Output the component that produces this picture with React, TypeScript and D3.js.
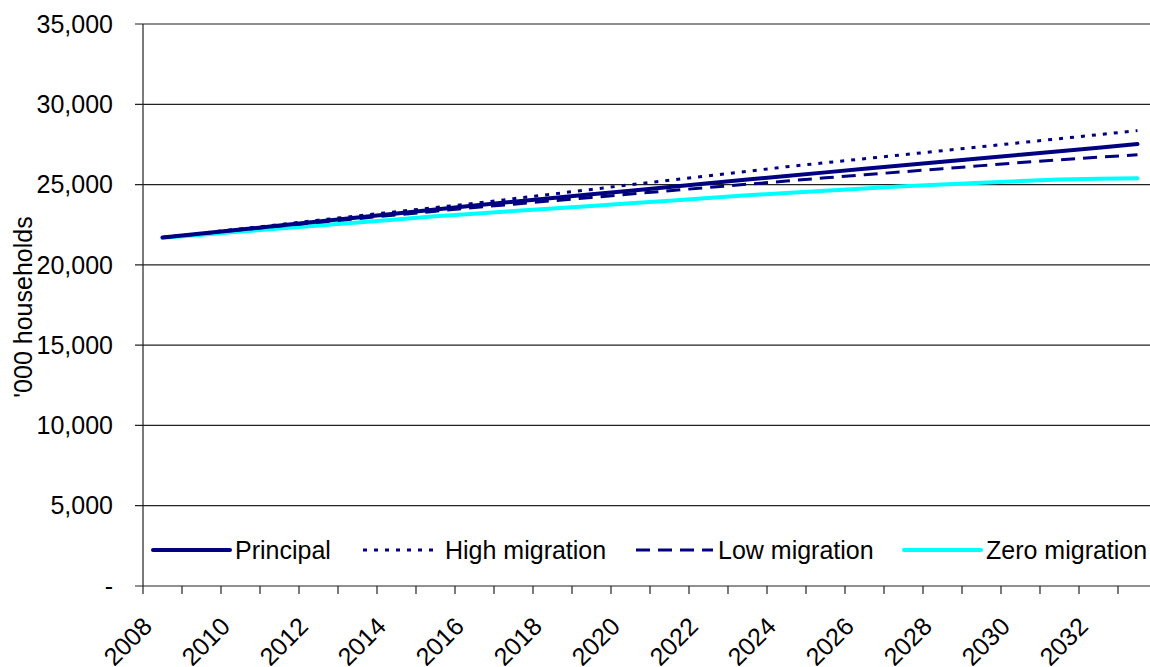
import { useEffect, useRef } from 'react';
import * as d3 from 'd3';

const years = d3.range(2008, 2034).map(String);
const tickYears = years.filter((_, i) => i % 2 === 0);
const yTicks = [0, 5000, 10000, 15000, 20000, 25000, 30000, 35000];

const principal = [
  21700, 21950, 22200, 22450, 22700, 22950, 23200, 23450, 23700, 23930, 24160, 24390, 24620,
  24850, 25080, 25310, 25540, 25760, 25980, 26200, 26420, 26640, 26860, 27080, 27300, 27520,
];
const highMigration = [
  21700, 21970, 22240, 22510, 22780, 23050, 23310, 23570, 23830, 24120, 24410, 24700, 24990,
  25270, 25550, 25830, 26110, 26360, 26610, 26860, 27110, 27360, 27610, 27860, 28110, 28360,
];
const lowMigration = [
  21700, 21940, 22180, 22420, 22650, 22880, 23110, 23340, 23570, 23780, 23990, 24200, 24410,
  24620, 24820, 25020, 25220, 25420, 25610, 25800, 25990, 26180, 26370, 26540, 26700, 26860,
];
const zeroMigration = [
  21690, 21880, 22070, 22260, 22450, 22640, 22830, 23020, 23190, 23350, 23510, 23670, 23830,
  23990, 24160, 24330, 24480, 24620, 24760, 24890, 25010, 25120, 25220, 25310, 25370, 25390,
];

const seriesNames = ['Principal', 'High migration', 'Low migration', 'Zero migration'];

const FONT = '"Liberation Sans", Arial, sans-serif';
const FS = 25;

export default function App() {
  const svgRef = useRef<SVGSVGElement>(null);

  useEffect(() => {
    if (!svgRef.current) return;
    const svg = d3.select(svgRef.current);
    svg.selectAll('*').remove();

    const left = 143;
    const top = 24;
    const bottom = 586;
    const band = 39;

    const x = d3
      .scaleBand()
      .domain(years)
      .range([left, left + band * years.length])
      .paddingInner(0)
      .paddingOuter(0);
    const y = d3.scaleLinear().domain([0, 35000]).range([bottom, top]);
    const plotRight = left + band * years.length;

    // gridlines
    svg
      .append('g')
      .selectAll('line')
      .data(yTicks)
      .enter()
      .append('line')
      .attr('x1', left - 8)
      .attr('x2', plotRight)
      .attr('y1', (d) => y(d))
      .attr('y2', (d) => y(d))
      .attr('stroke', '#222')
      .attr('stroke-width', 1.2);

    // y axis line
    svg
      .append('line')
      .attr('x1', left)
      .attr('x2', left)
      .attr('y1', top)
      .attr('y2', bottom)
      .attr('stroke', '#222')
      .attr('stroke-width', 1.2);

    // y labels
    svg
      .append('g')
      .selectAll('text')
      .data(yTicks)
      .enter()
      .append('text')
      .attr('x', 113)
      .attr('y', (d) => y(d))
      .attr('dy', '0.35em')
      .attr('text-anchor', 'end')
      .attr('font-family', FONT)
      .attr('font-size', FS)
      .attr('fill', '#000')
      .text((d) => (d === 0 ? '-' : d3.format(',')(d)));

    // x ticks at band edges
    const edges = d3.range(years.length + 1).map((i) => left + i * band);
    svg
      .append('g')
      .selectAll('line')
      .data(edges)
      .enter()
      .append('line')
      .attr('x1', (d) => d)
      .attr('x2', (d) => d)
      .attr('y1', bottom)
      .attr('y2', bottom + 8)
      .attr('stroke', '#222')
      .attr('stroke-width', 1.2);

    // x labels
    svg
      .append('g')
      .selectAll('text')
      .data(tickYears)
      .enter()
      .append('text')
      .attr('transform', (d) => {
        const cx = (x(d) as number) + x.bandwidth() / 2;
        return `translate(${cx - 9},${628}) rotate(-45)`;
      })
      .attr('text-anchor', 'end')
      .attr('font-family', FONT)
      .attr('font-size', FS)
      .attr('fill', '#000')
      .text((d) => d);

    // y title
    svg
      .append('text')
      .attr('transform', `translate(32,307) rotate(-90)`)
      .attr('text-anchor', 'middle')
      .attr('font-family', FONT)
      .attr('font-size', FS)
      .attr('fill', '#000')
      .text("'000 households");

    const styles = [
      { color: '#000080', width: 4, dash: null as string | null },
      { color: '#000080', width: 3, dash: '4,7' },
      { color: '#000080', width: 3, dash: '14,8' },
      { color: '#00FFFF', width: 4, dash: null as string | null },
    ];
    const allSeries = [principal, highMigration, lowMigration, zeroMigration];

    const line = d3
      .line<number>()
      .x((_, i) => (x(years[i]) as number) + x.bandwidth() / 2)
      .y((d) => y(d));

    // draw in order: zero, low, high, principal
    [3, 2, 1, 0].forEach((k) => {
      const s = styles[k];
      svg
        .append('path')
        .datum(allSeries[k])
        .attr('d', line)
        .attr('fill', 'none')
        .attr('stroke', s.color)
        .attr('stroke-width', s.width)
        .attr('stroke-linejoin', 'round')
        .attr('stroke-linecap', s.dash ? 'butt' : 'round')
        .attr('stroke-dasharray', s.dash);
    });

    // legend
    const legendX = [153, 363, 636, 904];
    const legendY = 550;
    const legend = svg
      .append('g')
      .selectAll('g')
      .data(seriesNames)
      .enter()
      .append('g')
      .attr('transform', (_, i) => `translate(${legendX[i]},${legendY})`);
    legend
      .append('line')
      .attr('x1', 0)
      .attr('x2', 77)
      .attr('y1', 0)
      .attr('y2', 0)
      .attr('stroke', (_, i) => styles[i].color)
      .attr('stroke-width', (_, i) => styles[i].width)
      .attr('stroke-linecap', (_, i) => (styles[i].dash ? 'butt' : 'round'))
      .attr('stroke-dasharray', (_, i) => styles[i].dash);
    legend
      .append('text')
      .attr('x', 82)
      .attr('y', 0)
      .attr('dy', '0.35em')
      .attr('font-family', FONT)
      .attr('font-size', FS)
      .attr('fill', '#000')
      .text((d) => d);
  }, []);

  return (
    <svg
      ref={svgRef}
      width={1150}
      height={667}
      style={{ position: 'absolute', left: 0, top: 0, background: '#fff' }}
    />
  );
}
